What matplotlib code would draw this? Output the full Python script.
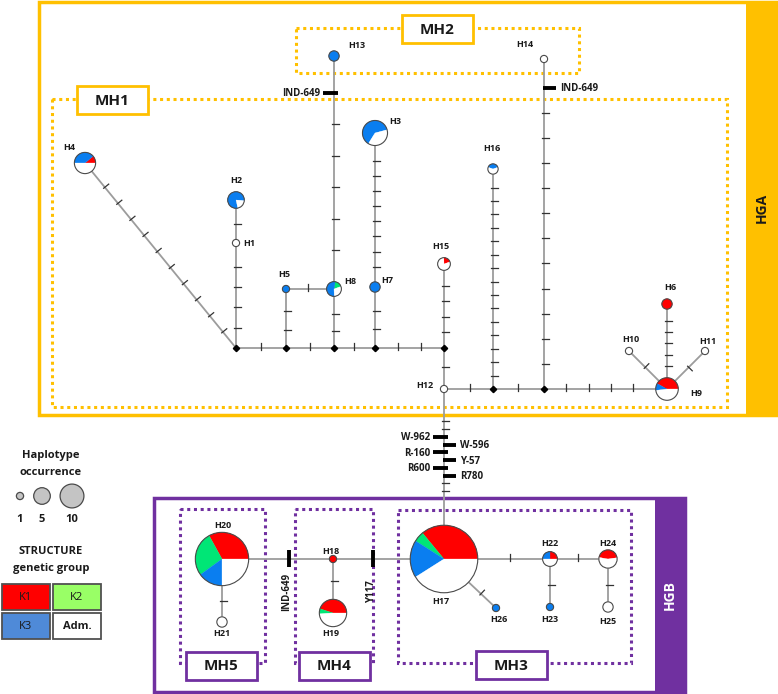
import math
import matplotlib
matplotlib.use("Agg")
import matplotlib.pyplot as plt
from matplotlib.patches import Wedge, Circle, Rectangle

plt.rcParams['font.family'] = ['Open Sans', 'DejaVu Sans']

# ---------------- data ----------------
haplotypes = ['H1', 'H2', 'H3', 'H4', 'H5', 'H6', 'H7', 'H8', 'H9', 'H10', 'H11', 'H12', 'H13',
              'H14', 'H15', 'H16', 'H17', 'H18', 'H19', 'H20', 'H21', 'H22', 'H23', 'H24', 'H25', 'H26']
occurrence = [1, 5, 11, 8, 1, 2, 2, 4, 9, 1, 1, 1, 2,
              1, 3, 2, 74, 1, 13, 47, 2, 4, 1, 6, 2, 1]
# STRUCTURE genetic group share (%) per haplotype
share_k1 = [0, 0, 0, 11, 0, 100, 0, 0, 42, 0, 0, 0, 0,
            0, 20, 0, 36, 100, 45, 33, 0, 25, 0, 45, 0, 0]
share_k2 = [0, 0, 0, 0, 0, 0, 0, 17, 0, 0, 0, 0, 0,
            0, 0, 0, 5, 0, 6, 27, 0, 0, 0, 0, 0, 0]
share_k3 = [0, 80, 62, 39, 100, 0, 100, 53, 10, 0, 0, 0, 100,
            0, 0, 39, 18, 0, 0, 15, 0, 25, 100, 0, 0, 100]
share_adm = [100, 20, 38, 50, 0, 0, 0, 30, 48, 100, 100, 100, 0,
             100, 80, 61, 41, 0, 49, 25, 100, 50, 0, 55, 100, 0]
groups = ['K1', 'K2', 'K3', 'Adm.']
legend_occurrence = [1, 5, 10]

# links: (from, to, mutations); '' = unnamed mutation step
links = [
    ('H4', 'J1', [''] * 10),
    ('H2', 'H1', ['']),
    ('H1', 'J1', [''] * 4),
    ('J1', 'J2', ['']),
    ('H5', 'J2', [''] * 2),
    ('H5', 'H8', ['']),
    ('J2', 'J3', ['']),
    ('H13', 'H8', ['IND-649'] + [''] * 5),
    ('H8', 'J3', [''] * 2),
    ('J3', 'J4', ['']),
    ('H3', 'H7', [''] * 8),
    ('H7', 'J4', [''] * 2),
    ('J4', 'J5', [''] * 2),
    ('H15', 'J5', [''] * 4),
    ('J5', 'H12', ['']),
    ('H12', 'J6', ['']),
    ('H16', 'J6', [''] * 15),
    ('J6', 'J7', ['']),
    ('H14', 'J7', ['IND-649'] + [''] * 11),
    ('J7', 'H9', [''] * 4),
    ('H6', 'H9', [''] * 5),
    ('H10', 'H9', ['']),
    ('H11', 'H9', ['']),
    ('H12', 'H17', ['', '', 'W-962', 'W-596', 'R-160', 'Y-57', 'R600', 'R780', '', '']),
    ('H20', 'H18', ['IND-649']),
    ('H18', 'H17', ['Y117']),
    ('H18', 'H19', ['']),
    ('H20', 'H21', ['']),
    ('H17', 'H22', ['']),
    ('H22', 'H24', ['']),
    ('H22', 'H23', ['']),
    ('H24', 'H25', ['']),
    ('H17', 'H26', ['']),
]

# ---------------- layout (pixels) ----------------
pos = {
    'H1': (236, 243), 'H2': (236, 200), 'H3': (375, 133), 'H4': (85, 163), 'H5': (286, 289),
    'H6': (667, 304), 'H7': (375, 287), 'H8': (334, 289), 'H9': (667, 389), 'H10': (629, 351),
    'H11': (705, 351), 'H12': (444, 389), 'H13': (334, 56), 'H14': (544, 59), 'H15': (444, 264),
    'H16': (493, 169), 'H17': (444, 559), 'H18': (333, 559), 'H19': (333, 613), 'H20': (222, 559),
    'H21': (222, 622), 'H22': (550, 559), 'H23': (550, 607), 'H24': (608, 559), 'H25': (608, 607),
    'H26': (496, 608),
    'J1': (236, 348), 'J2': (286, 348), 'J3': (334, 348), 'J4': (375, 348), 'J5': (444, 348),
    'J6': (493, 389), 'J7': (544, 389),
}
start_angle = {'H2': -5, 'H3': 15, 'H8': 20, 'H15': 20, 'H16': 20, 'H24': 8}
label_pos = {
    'H1': (249, 243), 'H2': (236, 180), 'H3': (395, 121), 'H4': (69, 147), 'H5': (284, 274),
    'H6': (670, 287), 'H7': (387, 280), 'H8': (350, 281), 'H9': (696, 393), 'H10': (631, 339),
    'H11': (708, 341), 'H12': (425, 385), 'H13': (357, 45), 'H14': (525, 44), 'H15': (441, 246),
    'H16': (492, 148), 'H17': (441, 602), 'H18': (331, 551), 'H19': (331, 633), 'H20': (223, 525),
    'H21': (222, 633), 'H22': (550, 544), 'H23': (550, 620), 'H24': (608, 544), 'H25': (608, 621),
    'H26': (499, 620),
}
link_span = {('H12', 'H17'): (0.19, 0.60)}
named_side = {('H13', 'H8'): ['L'], ('H14', 'J7'): ['R'],
              ('H12', 'H17'): ['L', 'R', 'L', 'R', 'L', 'R'],
              ('H20', 'H18'): ['B'], ('H18', 'H17'): ['B']}

COLORS = ['#ff0000', '#00e676', '#0a7ef0', '#ffffff']
LEGEND_COLORS = ['#ff0000', '#99ff66', '#4f8ad8', '#ffffff']
ORANGE = '#ffc000'
PURPLE = '#7030a0'
EDGE = '#9c9c9c'
OUTLINE = '#4a4a4a'
TXT = '#1a1a1a'


def radius(n):
    return 3.6 * n ** 0.52


rad = {h: radius(n) for h, n in zip(haplotypes, occurrence)}

fig = plt.figure(figsize=(7.78, 6.94), dpi=100)
ax = fig.add_axes([0, 0, 1, 1])
ax.set_xlim(0, 778)
ax.set_ylim(694, 0)
ax.axis('off')

# ---------------- frames ----------------
ax.add_patch(Rectangle((746, 2), 30, 413, facecolor=ORANGE, edgecolor='none', zorder=1))
ax.add_patch(Rectangle((39, 2), 737, 413, fill=False, edgecolor=ORANGE, lw=2.5, zorder=1))
ax.text(762, 208, 'HGA', rotation=90, ha='center', va='center', fontsize=10,
        fontweight='bold', color=TXT, zorder=6)
ax.add_patch(Rectangle((655, 498), 30, 194, facecolor=PURPLE, edgecolor='none', zorder=1))
ax.add_patch(Rectangle((154, 498), 531, 194, fill=False, edgecolor=PURPLE, lw=2.5, zorder=1))
ax.text(670, 595, 'HGB', rotation=90, ha='center', va='center', fontsize=10,
        fontweight='bold', color='white', zorder=6)

dotted = [((52, 99), 675, 308, ORANGE), ((296, 28), 283, 45, ORANGE),
          ((180, 509), 85, 154, PURPLE), ((295, 509), 78, 154, PURPLE),
          ((398, 510), 233, 153, PURPLE)]
for xy, w, h, c in dotted:
    ax.add_patch(Rectangle(xy, w, h, fill=False, edgecolor=c, lw=2.2,
                           linestyle=(0, (1, 1.2)), zorder=1))

mh_boxes = [('MH1', (77, 86), ORANGE), ('MH2', (402, 15), ORANGE),
            ('MH5', (186, 652), PURPLE), ('MH4', (299, 652), PURPLE),
            ('MH3', (476, 651), PURPLE)]
for name, (x, y), c in mh_boxes:
    ax.add_patch(Rectangle((x, y), 71, 28, facecolor='white', edgecolor=c, lw=2, zorder=6))
    ax.text(x + 35.5, y + 14.5, name, ha='center', va='center', fontsize=11,
            fontweight='bold', color=TXT, zorder=7)


# ---------------- links & mutations ----------------
def node_r(n):
    return rad.get(n, 0.0)


for a, b, muts in links:
    (x0, y0), (x1, y1) = pos[a], pos[b]
    ax.plot([x0, x1], [y0, y1], color=EDGE, lw=1.3, zorder=2, solid_capstyle='butt')
    L = math.hypot(x1 - x0, y1 - y0)
    ux, uy = (x1 - x0) / L, (y1 - y0) / L
    nx, ny = uy, -ux
    k = len(muts)
    if (a, b) in link_span:
        s0, s1 = link_span[(a, b)]
        ds = [L * (s0 + (s1 - s0) * i / (k - 1)) for i in range(k)]
    else:
        r0, r1 = node_r(a), node_r(b)
        ds = [r0 + (L - r0 - r1) * (i + 1) / (k + 1) for i in range(k)]
    sides = list(named_side.get((a, b), []))
    for d, m in zip(ds, muts):
        px, py = x0 + ux * d, y0 + uy * d
        if not m:
            ax.plot([px - nx * 1.5, px + nx * 5], [py - ny * 1.5, py + ny * 5],
                    color='#333333', lw=0.9, zorder=3)
            continue
        side = sides.pop(0)
        if side == 'B':
            ax.plot([px, px], [py - 9, py + 8], color='black', lw=2.8, zorder=3,
                    solid_capstyle='butt')
            ax.text(px - 2, py + 33, m, rotation=90, ha='center', va='center',
                    fontsize=7, fontweight='bold', color=TXT, zorder=5)
        elif side == 'L':
            ax.plot([px - 11, px + 4], [py, py], color='black', lw=2.8, zorder=3,
                    solid_capstyle='butt')
            ax.text(px - 14, py + 1, m, ha='right', va='center', fontsize=7,
                    fontweight='bold', color=TXT, zorder=5)
        else:
            ax.plot([px - 1, px + 12], [py, py], color='black', lw=2.8, zorder=3,
                    solid_capstyle='butt')
            ax.text(px + 16, py + 1, m, ha='left', va='center', fontsize=7,
                    fontweight='bold', color=TXT, zorder=5)

# junction (median) points
for j in ['J1', 'J2', 'J3', 'J4', 'J5', 'J6', 'J7']:
    ax.plot(*pos[j], marker='D', ms=3.2, color='black', zorder=4)

# ---------------- haplotype pies ----------------
for i, h in enumerate(haplotypes):
    x, y = pos[h]
    r = rad[h]
    shares = [share_k1[i], share_k2[i], share_k3[i], share_adm[i]]
    tot = sum(shares)
    a0 = start_angle.get(h, 0)
    for s, c in zip(shares, COLORS):
        if s <= 0:
            continue
        a1 = a0 + 360.0 * s / tot
        # y axis is inverted, so screen angle t maps to data angle -t
        ax.add_patch(Wedge((x, y), r, -a1, -a0, facecolor=c, edgecolor=c, lw=0.2, zorder=4))
        a0 = a1
    ax.add_patch(Circle((x, y), r, fill=False, edgecolor=OUTLINE, lw=0.8, zorder=4.5))
    lx, ly = label_pos[h]
    ax.text(lx, ly, h, ha='center', va='center', fontsize=6.5, fontweight='bold',
            color=TXT, zorder=5)

# ---------------- legend ----------------
ax.text(51, 455, 'Haplotype', ha='center', va='center', fontsize=8, fontweight='bold', color=TXT)
ax.text(51, 472, 'occurrence', ha='center', va='center', fontsize=8, fontweight='bold', color=TXT)
for n, lx in zip(legend_occurrence, [20, 42, 72]):
    ax.add_patch(Circle((lx, 496), radius(n), facecolor='#c4c4c4', edgecolor=OUTLINE, lw=0.9))
    ax.text(lx, 519, str(n), ha='center', va='center', fontsize=8, fontweight='bold', color=TXT)

ax.text(51, 552, 'STRUCTURE', ha='center', va='center', fontsize=8, fontweight='bold', color=TXT)
ax.text(51, 568, 'genetic group', ha='center', va='center', fontsize=8, fontweight='bold', color=TXT)
for g, c, (bx, by) in zip(groups, LEGEND_COLORS, [(2, 584), (53, 584), (2, 613), (53, 613)]):
    ax.add_patch(Rectangle((bx, by), 48, 26, facecolor=c, edgecolor='#505050', lw=1.3))
    ax.text(bx + 24, by + 13.5, g, ha='center', va='center', fontsize=8,
            fontweight='bold' if g == 'Adm.' else 'normal', color=TXT)

fig.savefig('out.png', dpi=100)
